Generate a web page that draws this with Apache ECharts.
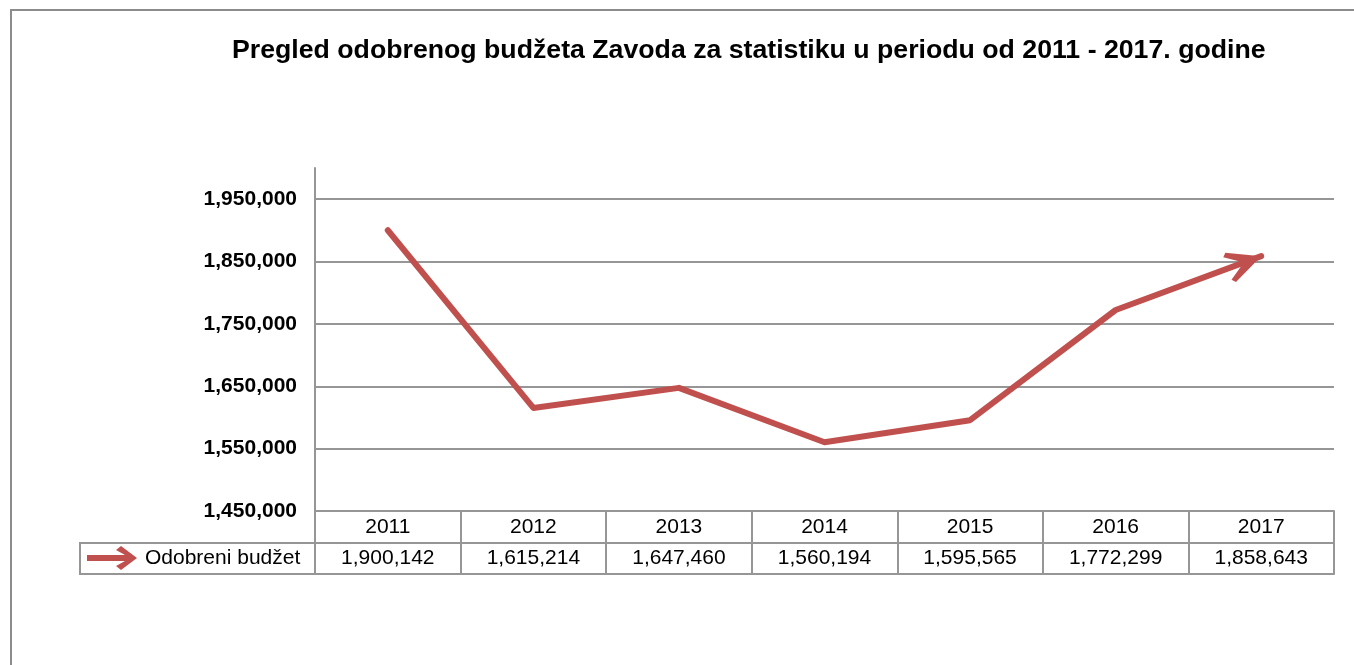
<!DOCTYPE html>
<html>
<head>
<meta charset="utf-8">
<style>
    html, body { margin:0; padding:0; background:#fff; }
    #main { width:1354px; height:665px; }
</style>
<script src="https://cdn.jsdelivr.net/npm/echarts@6/dist/echarts.min.js"></script>
</head>
<body>
<div id="main"></div>
<script>
    // podaci
    var godine = ['2011', '2012', '2013', '2014', '2015', '2016', '2017'];
    var budzet = [1900142, 1615214, 1647460, 1560194, 1595565, 1772299, 1858643];
    var nazivSerije = 'Odobreni budžet';
    var yMin = 1450000, yMax = 2000000, yKorak = 100000;

    var boja = '#C0504D';
    var siva = '#969696';

    function fmt(v) {
        return Number(v).toLocaleString('en-US');
    }

    // strelica na kraju linije, vrh pomaknut na tocku
    var strelica = 'path://M3.46,0 L36,15.61 L3.46,31.22 L0,27.61 L17.48,15.61 L0,3.61 Z';
    var legendaIkona = 'path://M0,9 L38,9 L29,4 L34,0 L50,12 L34,24 L29,20 L38,15 L0,15 Z';

    var podaci = budzet.map(function (v, i) {
        if (i === budzet.length - 1) {
            return { value: v, symbol: strelica, symbolSize: [36, 31.22], symbolRotate: 20, symbolOffset: [-16.9, 6.2] };
        }
        return v;
    });

    var chart = echarts.init(document.getElementById('main'));
    var option = {
        backgroundColor: '#fff',
        textStyle: { fontFamily: 'Liberation Sans, Arial, sans-serif' },
        title: {
            text: 'Pregled odobrenog budžeta Zavoda za statistiku u periodu od 2011 - 2017. godine',
            left: 227,
            top: 32,
            textStyle: { fontSize: 26.7, fontWeight: 'bold', color: '#000' }
        },
        legend: {
            data: [{ name: nazivSerije, icon: legendaIkona }],
            left: 87,
            top: 546,
            padding: 0,
            itemWidth: 50,
            itemHeight: 24,
            itemStyle: { color: boja },
            textStyle: { fontSize: 21, color: '#000', padding: [0, 0, 0, 3] }
        },
        grid: { left: 315, right: 20, top: 168, bottom: 154 },
        xAxis: [
            {
                type: 'category',
                data: godine,
                boundaryGap: true,
                axisLine: { lineStyle: { color: siva, width: 2 } },
                axisTick: { show: true, length: 63, lineStyle: { color: siva, width: 2 } },
                axisLabel: { margin: 6, fontSize: 21, color: '#000' }
            },
            {
                type: 'category',
                data: godine,
                position: 'bottom',
                offset: 32,
                axisLine: { lineStyle: { color: siva, width: 2 } },
                axisTick: { show: false },
                axisLabel: {
                    margin: 5, fontSize: 21, color: '#000',
                    formatter: function (v, i) { return fmt(budzet[i]); }
                }
            },
            {
                type: 'category',
                data: godine,
                position: 'bottom',
                offset: 63,
                axisLine: { lineStyle: { color: siva, width: 2 } },
                axisTick: { show: false },
                axisLabel: { show: false }
            }
        ],
        yAxis: {
            type: 'value',
            min: yMin,
            max: yMax,
            interval: yKorak,
            axisLine: { show: true, lineStyle: { color: siva, width: 2 } },
            axisTick: { show: false },
            axisLabel: {
                margin: 18, fontSize: 21, fontWeight: 'bold', color: '#000',
                showMaxLabel: false,
                formatter: function (v) { return fmt(v); }
            },
            splitLine: { show: true, showMaxLine: false, lineStyle: { color: siva, width: 2 } }
        },
        graphic: [
            {
                type: 'rect', z: -1, silent: true,
                shape: { x: 11, y: 10, width: 1500, height: 800 },
                style: { fill: 'none', stroke: '#8c8c8c', lineWidth: 2 }
            },
            {
                type: 'rect', z: -1, silent: true,
                shape: { x: 80, y: 543, width: 235, height: 31 },
                style: { fill: 'none', stroke: siva, lineWidth: 2 }
            }
        ],
        series: [{
            name: nazivSerije,
            type: 'line',
            data: podaci,
            symbol: 'none',
            itemStyle: { color: boja },
            lineStyle: { color: boja, width: 6, cap: 'round', join: 'round' },
            animation: false
        }]
    };
    chart.setOption(option);
</script>
</body>
</html>
